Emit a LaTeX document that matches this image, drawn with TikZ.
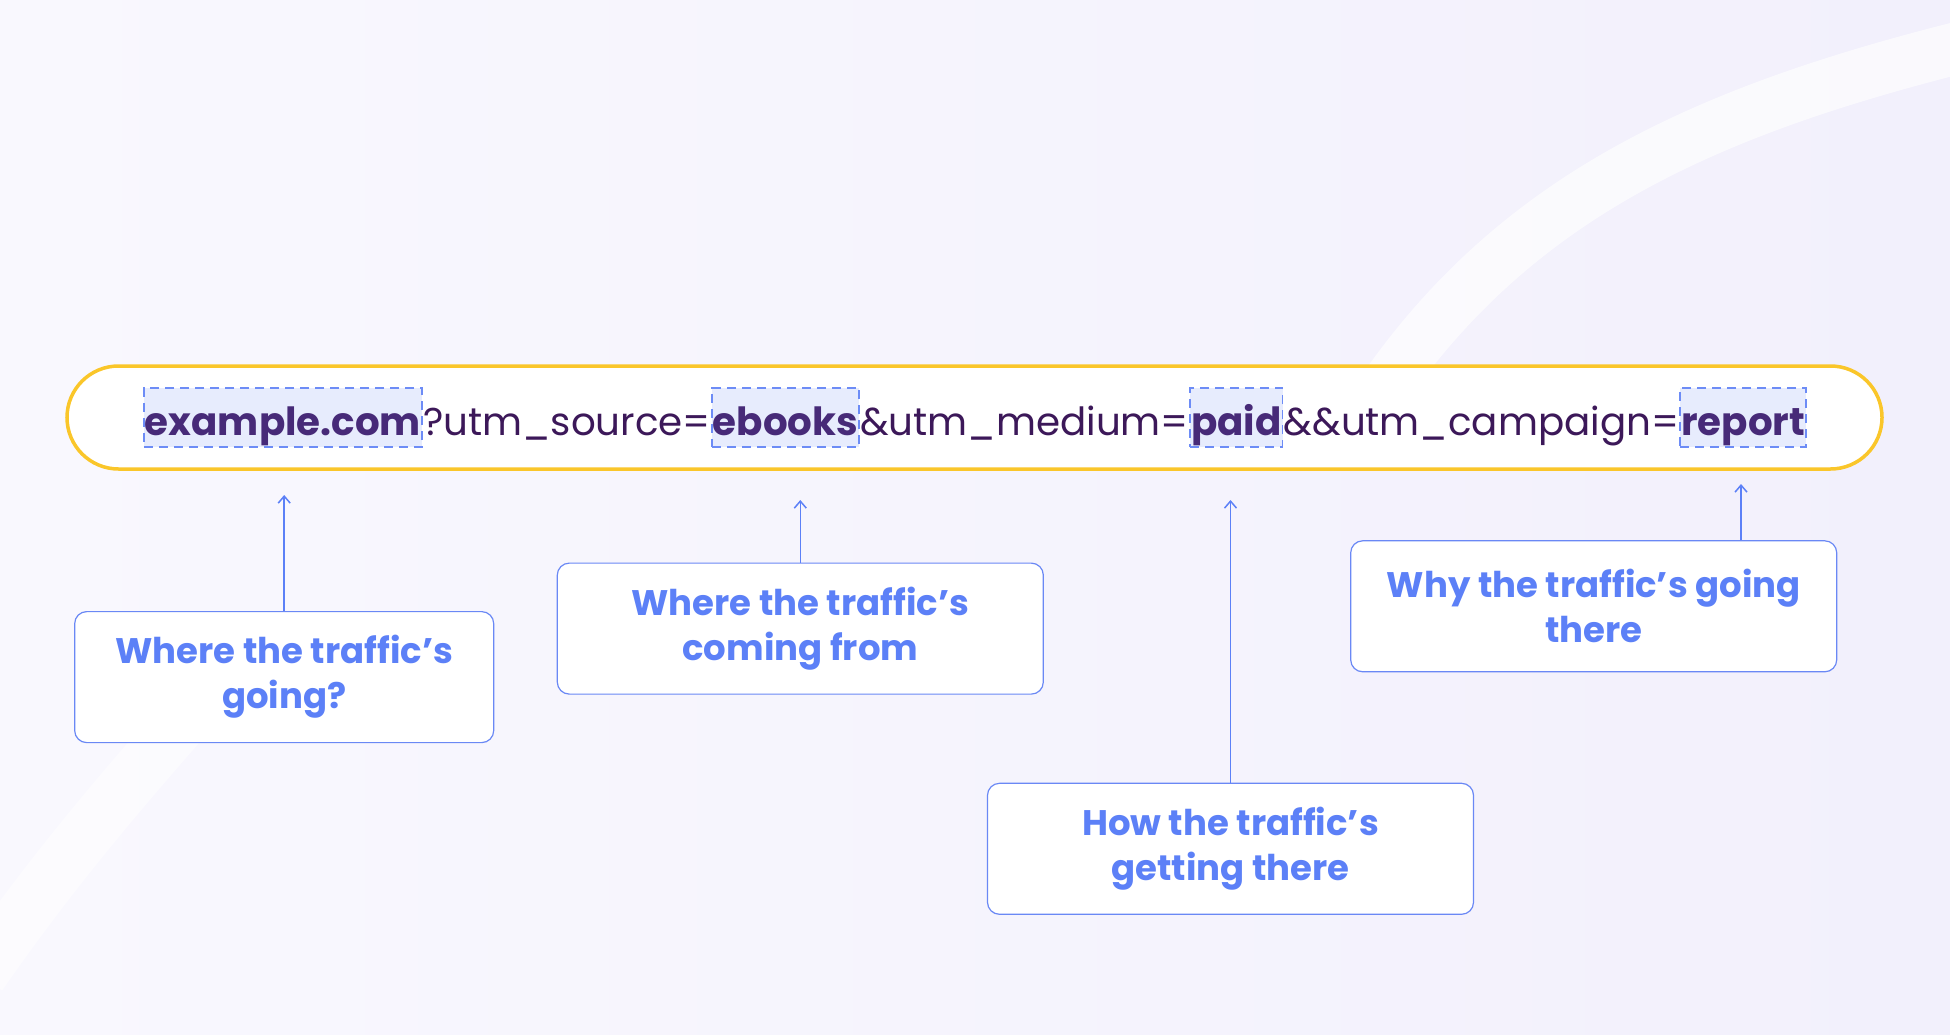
\documentclass[tikz,border=0pt]{standalone}
\usepackage{fontspec}
\setmainfont{Poppins}
\usetikzlibrary{arrows.meta}

\definecolor{bgleft}{HTML}{F9F8FE}
\definecolor{bgright}{HTML}{F2F0FC}
\definecolor{pillyellow}{HTML}{FAC62A}
\definecolor{urlplaincol}{HTML}{3C1859}
\definecolor{urlkeycol}{HTML}{472A78}
\definecolor{keyfill}{HTML}{E7ECFD}
\definecolor{keyline}{HTML}{6D8CF6}
\definecolor{labelblue}{HTML}{5C80F7}
\definecolor{boxline}{HTML}{6A88F5}

\begin{document}
\begin{tikzpicture}[x=1pt, y=-1pt,
    urlbar/.style ={draw=pillyellow, line width=3.5pt, fill=white,
      rounded corners=51.5pt, minimum width=1815pt, minimum height=103pt},
    urlplain/.style ={inner sep=0pt, text=urlplaincol,
      font=\fontsize{38.8}{46}\selectfont},
    urlkey/.style ={inner xsep=1pt, inner ysep=2.5pt, text height=45pt, text depth=9pt,
      fill=keyfill, draw=keyline, line width=1.8pt, dash pattern=on 9pt off 6pt,
      text=urlkeycol, font=\fontsize{38.8}{46}\selectfont\bfseries},
    explain/.style ={draw=boxline, line width=1.2pt, fill=white, rounded corners=12pt,
      minimum width=486pt, minimum height=131pt, align=center, text=labelblue,
      font=\fontsize{35.5}{45}\selectfont\bfseries},
    pointer/.style ={draw=labelblue, line width=1.5pt, -{Straight Barb[length=7pt, width=12pt]}}]

   \useasboundingbox (0,0) rectangle (1950,1035);
   \shade[left color=bgleft, right color=bgright] (0,0) rectangle (1950,1035);

   % faint background swoosh
   \begin{scope}
     \clip (0,0) rectangle (1950,1035);
     \draw[white, opacity=0.65, line width=52pt] (1990,40) .. controls (1700,110) and (1500,200) .. (1360,425);
     \draw[white, opacity=0.5, line width=54pt] (245,650) .. controls (130,780) and (60,860) .. (-20,975);
   \end{scope}

   \node[urlbar] (bar) at (974.5,417.5) {};

   \node[urlkey, anchor=base west] (domain) at (143,435.5) {example.com};
   \node[urlplain, anchor=base west] (part1) at (domain.base east) {?utm\_source=};
   \node[urlkey, anchor=base west] (source) at (part1.base east) {ebooks};
   \node[urlplain, anchor=base west] (part2) at (source.base east) {\&utm\_medium=};
   \node[urlkey, anchor=base west] (medium) at (part2.base east) {paid};
   \node[urlplain, anchor=base west] (part3) at (medium.base east) {\&\&utm\_campaign=};
   \node[urlkey, anchor=base west] (campaign) at (part3.base east) {report};

   \node[explain, minimum width=419pt] (goingbox) at (284.2,677.1) {Where the traffic’s\\going?};
   \node[explain] (frombox) at (800.3,628.6) {Where the traffic’s\\coming from};
   \node[explain] (howbox) at (1230.5,848.8) {How the traffic’s\\getting there};
   \node[explain] (whybox) at (1593.7,606.3) {Why the traffic’s going\\there};

   \coordinate (goingtip) at (284.2,495);
   \coordinate (fromtip) at (800.3,500);
   \coordinate (howtip) at (1230.5,500);
   \coordinate (whytip) at (1741,484);

   \draw[pointer] (goingbox.north) -- (goingtip);
   \draw[pointer] (frombox.north) -- (fromtip);
   \draw[pointer] (howbox.north) -- (howtip);
   \draw[pointer] (whybox.north -| whytip) -- (whytip);
 \end{tikzpicture}
\end{document}
